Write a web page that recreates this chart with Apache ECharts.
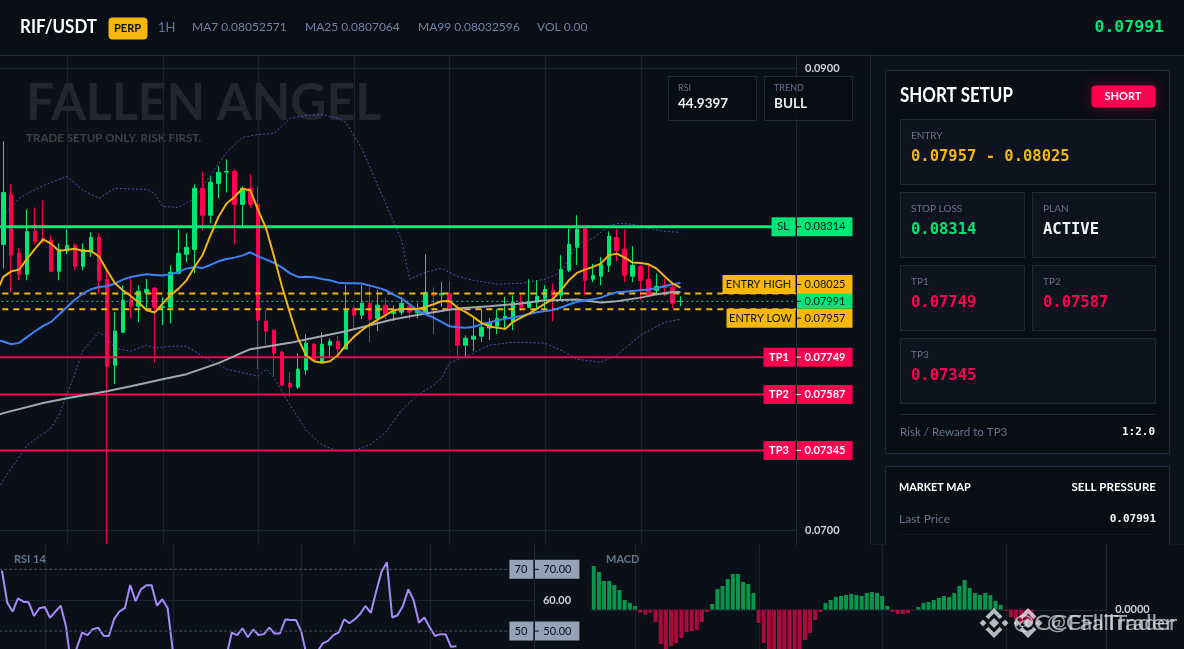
<!DOCTYPE html>
<html><head><meta charset="utf-8"><style>html,body{margin:0;padding:0;background:#0a0f18}#c{width:1184px;height:649px}</style>
<script src="https://cdn.jsdelivr.net/npm/echarts@6/dist/echarts.min.js"></script></head><body><div id="c"></div>
<script>
const slots = Array.from({length:100},(_,i)=>i);
const priceSlots = Array.from({length:101},(_,i)=>i);
const opens=[.08300,.08238,.08455,.08199,.08108,.08294,.08263,.08255,.08121,.08209,.08234,.08143,.08204,.08268,.08087,.07714,.07857,.07996,.07970,.08030,.08048,.07964,.07965,.08113,.08195,.08216,.08481,.08364,.08502,.08551,.08554,.08411,.08481,.08411,.07905,.07866,.07771,.07636,.07619,.07693,.07805,.07727,.07801,.07818,.07784,.07961,.07931,.07983,.07918,.07974,.07939,.07944,.07970,.07941,.07944,.08022,.08019,.08026,.07961,.07801,.07827,.07840,.07875,.07883,.07918,.07901,.07987,.07965,.07987,.08004,.08039,.08017,.08126,.08225,.08306,.08087,.08100,.08147,.08268,.08217,.08100,.08143,.08087,.08039,.08061,.08052,.07990];
const closes=[.08240,.08463,.08191,.08108,.08294,.08251,.08254,.08121,.08216,.08234,.08143,.08216,.08268,.08082,.07710,.07862,.07996,.07970,.08035,.08043,.07965,.07967,.08117,.08199,.08225,.08481,.08364,.08507,.08550,.08554,.08411,.08481,.08411,.07909,.07862,.07766,.07628,.07619,.07697,.07810,.07736,.07805,.07818,.07784,.07957,.07931,.07983,.07913,.07974,.07935,.07948,.07983,.07944,.07952,.08030,.08017,.08025,.07961,.07801,.07831,.07840,.07879,.07896,.07918,.07926,.07987,.07965,.07987,.08013,.08043,.08017,.08130,.08238,.08303,.08082,.08104,.08152,.08273,.08212,.08104,.08147,.08082,.08017,.08056,.08049,.07983,.07991];
const lows=[.08200,.08134,.08030,.08082,.08082,.08238,.08241,.08117,.08082,.08195,.08126,.08126,.08183,.08022,.06939,.07632,.07857,.07918,.07900,.07948,.07727,.07888,.07896,.08108,.08160,.08113,.08299,.08329,.08437,.08463,.08238,.08316,.08394,.07697,.07801,.07667,.07623,.07576,.07610,.07671,.07736,.07723,.07750,.07750,.07784,.07873,.07913,.07814,.07862,.07913,.07905,.07931,.07913,.07918,.07935,.07849,.07967,.07883,.07753,.07753,.07775,.07814,.07823,.07849,.07866,.07866,.07948,.07964,.07952,.07952,.07905,.07996,.08118,.08147,.08017,.08075,.08061,.08118,.08165,.08075,.08075,.07996,.08010,.08017,.08014,.07961,.07970];
const highs=[.08340,.08684,.08498,.08221,.08390,.08398,.08429,.08277,.08242,.08303,.08242,.08242,.08290,.08286,.08120,.07944,.08061,.08091,.08061,.08087,.08052,.08009,.08147,.08303,.08286,.08498,.08554,.08533,.08576,.08606,.08563,.08489,.08541,.08489,.07952,.07866,.07779,.07684,.07766,.07849,.07810,.07857,.07831,.07840,.08061,.07970,.08061,.08065,.08039,.08004,.07974,.08010,.07974,.07983,.08195,.08051,.08074,.08078,.07978,.07844,.07918,.07957,.07918,.07957,.08010,.08017,.08022,.08087,.08082,.08061,.08069,.08191,.08307,.08364,.08307,.08154,.08183,.08294,.08307,.08303,.08230,.08147,.08147,.08111,.08090,.08068,.08013];
const ma7=[.08017,.080967,.08121,.081284,.08176,.08219,.082597,.08241,.08209,.08215,.08219,.08209,.08209,.08186,.081255,.080707,.08039,.080144,.079856,.079524,.079423,.079812,.080173,.08046,.08082,.0814,.081905,.08277,.083564,.08414,.08443,.08479,.08472,.083853,.083059,.08183,.080534,.07938,.078298,.077576,.077316,.077244,.077316,.077576,.078009,.07837,.078658,.078904,.07912,.079308,.079524,.07958,.07958,.07958,.079668,.079784,.079914,.079928,.07964,.07945,.079236,.078976,.07883,.07876,.078716,.07902,.079207,.07938,.079596,.079813,.080015,.08039,.080823,.08114,.081285,.0814,.081544,.081905,.081978,.081804,.081588,.081573,.081515,.081328,.080996,.080678,.080505];
const ma25=[.07825,.078167,.07805,.07811,.07837,.078615,.078846,.079019,.079336,.079668,.079986,.080245,.080433,.080534,.080563,.080678,.080852,.080967,.081025,.081082,.081053,.081025,.081082,.081183,.081328,.0814,.081356,.081486,.081645,.081746,.081804,.08189,.082035,.08186,.081717,.081573,.08137,.08112,.080967,.08098,.08095,.08088,.08082,.08072,.08069,.08069,.08068,.08059,.080505,.08039,.0802,.08003,.079784,.079524,.07935,.079207,.079019,.07883,.078788,.07877,.0788,.078918,.07899,.07909,.07915,.079207,.079279,.079365,.079437,.079495,.079539,.07964,.07977,.079885,.079957,.08,.08007,.0802,.0803,.08033,.08036,.08039,.08042,.08049,.08056,.08065,.080707];
const ma99=[.07495,.075065,null,null,null,null,.0755,null,null,.075714,null,null,null,null,.076017,null,null,.076234,null,null,null,.076537,null,null,.076753,null,null,null,.07723,null,null,null,.077836,null,null,null,null,.07811,null,.078254,null,null,null,null,.078615,null,null,.078875,null,null,.079135,null,null,null,.07938,null,null,null,.079596,null,null,null,.079697,null,null,null,.079813,null,null,.079957,.07996,null,null,.079986,null,null,.079856,null,.079914,null,null,.08007,null,.080217,null,.080318,.080318];
const bollUp=[.08299,.083636,null,.08437,null,.08476,null,.085065,null,.085325,null,.08472,null,.08437,null,.084805,null,null,null,.08476,.08459,.084026,null,.08398,null,.08437,null,.08537,null,.08636,null,.08701,null,.08714,null,.087186,null,.087836,null,.087965,null,.088009,null,.087836,.08766,null,.086537,null,.084935,.084156,null,.082554,.080866,null,.081169,null,.08134,null,.080996,null,.08082,null,null,.08065,null,null,.08069,null,null,.080866,null,.081169,null,.082338,null,.08264,null,.08316,.08329,null,.083247,null,.083074,null,.082944,null,.0829];
const bollLow=[.07150,.072165,null,null,.07368,null,null,.074416,.074978,null,.076796,.07779,null,.07857,.078355,.077879,null,.07775,null,.078009,.077879,null,.077965,null,.077965,null,.07753,null,null,.07697,null,null,null,.076667,.07697,.07658,null,.07541,null,.07433,null,.07368,null,.07342,null,.07346,null,.07368,null,.07424,null,.075195,null,.07584,null,.076277,.07658,.07723,null,null,.07766,null,.078009,null,null,.078139,null,null,null,.078095,null,.07779,null,.0774,null,null,.07727,null,.077576,null,null,.07844,null,null,.079,null,.079134];
const levelNames=['SL','ENTRY HIGH','','ENTRY LOW','TP1','TP2','TP3'];
const levelPrices=[.08314,.08025,.07991,.07957,.07749,.07587,.07345];
const rsiValues=[69.6,59.2,56.3,60.6,59.5,59.3,54.9,57.4,57.8,54.3,56.3,58.2,51.4,38,44.5,49.5,48.7,50.6,51.1,48.5,48.4,53.9,56.4,57.4,64.9,59.7,63.5,64.8,64.8,58.2,60.3,57.4,43,38,34,32,33,35,36,37,38,40,42,49.5,48.7,50.9,48,50.5,48.7,49,51.1,49.2,49.2,53.7,53.6,53.6,49.8,42,41.7,43.3,46,46.8,48.7,49.6,53.8,52.5,53.8,55.5,58.1,55.9,62.8,69.2,72.3,54.4,55.1,58.1,63.5,60,52.7,54.4,51.2,48.4,49,48.9,44.9,45.1];
const rsiGuides=[70,50];
const macdValues=[.00131,.00113,.00086,.00086,.00074,.00059,.00029,.0002,.00011,-.00009,-.00015,-.00009,-.00037,-.00103,-.00122,-.00109,-.001,-.00085,-.00067,-.00064,-.00061,-.00037,-.00007,.00017,.00062,.00071,.00092,.00107,.00107,.00083,.00077,.0005,-.0004,-.001,-.00118,-.00126,-.00131,-.00131,-.00131,-.00131,-.00126,-.00091,-.0007,-.00031,-.00007,.0002,.00029,.00038,.00041,.00044,.00047,.00044,.00041,.0005,.00053,.0005,.00041,.00011,-.00007,-.00013,-.00013,-.0001,-.00001,.00008,.0002,.00023,.00029,.00035,.00041,.00038,.0005,.00071,.00089,.00065,.0005,.00044,.0005,.00044,.00026,.00014,-.00004,-.00022,-.00031,-.0004,-.00038,-.00041];

const UI='Lato', MONO='"DejaVu Sans Mono"';
const GREEN='#00e676', RED='#ff0050', AMBER='#f5b70a', SLATE='#94a3b8', BG='#0a0f18', GRID='#1b2330', RULE='#1e2a3a', MUTED='#64748b';
const levelStyles=[
 {line:GREEN,w:3,box:GREEN,ink:'#0a0f18',leftW:24,dy:0,h:19},
 {line:AMBER,w:2,dash:[6,5],box:AMBER,ink:'#0a0f18',leftW:73,dy:-9,h:19},
 {line:'#22c99a',w:1,dash:[2,3],box:GREEN,ink:'#0a0f18',leftW:0,dy:0,h:15},
 {line:AMBER,w:2,dash:[6,5],box:AMBER,ink:'#0a0f18',leftW:69,dy:9,h:19},
 {line:RED,w:2,box:RED,ink:'#fff',leftW:32,dy:0,h:19,bold:true},
 {line:RED,w:2,box:RED,ink:'#fff',leftW:32,dy:0,h:19,bold:true},
 {line:RED,w:2,box:RED,ink:'#fff',leftW:32,dy:0,h:19,bold:true}];
function tagShapes(cs,y,name,priceText,st){
  const r=cs.x+cs.width, cy=y+st.dy, out=[], rw=st.rightW||56;
  const font=(st.bold?'bold ':'')+'11px '+UI;
  out.push({type:'line',shape:{x1:cs.x,y1:y,x2:r,y2:y},style:{stroke:st.line,lineWidth:st.w,lineDash:st.dash||null}});
  if(st.leftW){
    out.push({type:'rect',shape:{x:r-st.leftW-0.5,y:cy-st.h/2,width:st.leftW,height:st.h},style:{fill:st.box}});
    out.push({type:'text',style:{x:r-st.leftW/2-1,y:cy,text:name,fill:st.ink,font,align:'center',verticalAlign:'middle'}});
  }
  out.push({type:'rect',shape:{x:r+.5,y:cy-st.h/2,width:rw,height:st.h},style:{fill:st.box}});
  out.push({type:'line',shape:{x1:r+.5,y1:cy-st.h/2,x2:r+.5,y2:cy+st.h/2},style:{stroke:'#0a0f18',lineWidth:1}});
  out.push({type:'line',shape:{x1:r+.5,y1:cy,x2:r+5,y2:cy},style:{stroke:st.ink,lineWidth:1}});
  out.push({type:'text',style:{x:r+rw/2+1,y:cy,text:priceText,fill:st.ink,font,align:'center',verticalAlign:'middle'}});
  return out;
}
function guideSeries(gridIdx,cols,hValues,z){
  return {type:'custom',xAxisIndex:gridIdx,yAxisIndex:gridIdx,z:z||1,silent:true,clip:false,data:[[0,0]],tooltip:{show:false},
    renderItem(p,api){const cs=p.coordSys,kids=[];
      cols.forEach(c=>{const x=Math.round(api.coord([c,0])[0])+.5;kids.push({type:'line',shape:{x1:x,y1:cs.y,x2:x,y2:cs.y+cs.height},style:{stroke:GRID,lineWidth:1}});});
      hValues.forEach(v=>{const y=Math.round(api.coord([0,v])[1])+.5;kids.push({type:'line',shape:{x1:Math.max(cs.x,0),y1:y,x2:cs.x+cs.width,y2:y},style:{stroke:GRID,lineWidth:1}});});
      return {type:'group',children:kids};}};
}
function maLine(name,data,color,w){return {name,type:'line',xAxisIndex:0,yAxisIndex:0,data,connectNulls:true,symbol:'none',z:6,silent:true,lineStyle:{color,width:w}};}
function boll(name,data){return {name,type:'line',xAxisIndex:0,yAxisIndex:0,data,connectNulls:true,symbol:'none',z:2,silent:true,lineStyle:{color:'#5a4bb0',width:1,type:[2,2]}};}

const g=[];
const R=(x,y,w,h,fill,stroke,r,z,extra)=>g.push(Object.assign({type:'rect',z:z||0,silent:true,shape:{x:x+.5,y:y+.5,width:w,height:h,r:r||0},style:{fill,stroke:stroke||null,lineWidth:1}},extra||{}));
const T=(x,y,text,font,fill,align,z,sx)=>g.push({type:'text',z:z||1,silent:true,x,y,scaleX:sx||1,style:{x:0,y:0,text,font,fill,align:align||'left',verticalAlign:'middle'}});
// header
R(-1,-1,1186,56,'#0a0e17',RULE);
T(20,27.5,'RIF/USDT','bold 18px '+UI,'#ffffff','left',1,.94);
R(108,17,39,22,AMBER,null,4);
T(127.5,28,'PERP','bold 11px '+UI,'#0a0f18','center');
T(158,27.5,'1H','13px '+UI,'#64789a');
T(192,27.5,'MA7 0.08052571','12px '+UI,'#6f83a5');
T(305,27.5,'MA25 0.0807064','12px '+UI,'#6f83a5');
T(418,27.5,'MA99 0.08032596','12px '+UI,'#6f83a5');
T(537,27.5,'VOL 0.00','12px '+UI,'#6f83a5');
T(1164,28,'0.07991','bold 16.5px '+MONO,GREEN,'right');
// watermark
T(26,103,'FALLEN ANGEL','bold 52px '+UI,'#22272f','left',1,.96);
T(26,138,'TRADE SETUP ONLY. RISK FIRST.','bold 12px '+UI,'#3b4049','left',1,.965);
// sidebar
R(870,55,314,489,'#0c121d','#1c2634');
R(885,70,284,383,'#090d15',RULE);
T(900,96,'SHORT SETUP','bold 20px '+UI,'#ffffff','left',1,.845);
R(1091,85,64,22,RED,null,4,1,{style:{fill:RED,shadowBlur:14,shadowColor:'rgba(255,0,80,.35)'}});
T(1123,96,'SHORT','bold 11px '+UI,'#ffffff','center',2);
const card=(x,y,w,h,label,val,col)=>{R(x,y,w,h,'#0e141f','#1f2837');T(x+11,y+17,label,'10px '+UI,MUTED);T(x+11,y+38,val,'bold 15.5px '+MONO,col);};
card(900,119,255,65,'ENTRY','0.07957 - 0.08025',AMBER);
card(900,192,124,65,'STOP LOSS','0.08314',GREEN);
card(1032,192,123,65,'PLAN','ACTIVE','#f1f5f9');
card(900,265,124,65,'TP1','0.07749',RED);
card(1032,265,123,65,'TP2','0.07587',RED);
card(900,338,255,65,'TP3','0.07345',RED);
g.push({type:'line',z:1,silent:true,shape:{x1:900,y1:414.5,x2:1155,y2:414.5},style:{stroke:RULE,lineWidth:1}});
T(900,432,'Risk / Reward to TP3','12px '+UI,MUTED,'left',1,.965);
T(1155,432,'1:2.0','bold 11px '+MONO,'#f1f5f9','right');
R(885,466,284,90,'#090d15',RULE);
T(899,487,'MARKET MAP','bold 12px '+UI,'#ffffff','left',1,.9);
T(1156,487,'SELL PRESSURE','bold 12px '+UI,'#ffffff','right',1,.965);
T(899,519,'Last Price','12px '+UI,MUTED);
T(1156,519,'0.07991','bold 11px '+MONO,'#f1f5f9','right');
g.push({type:'line',z:1,silent:true,shape:{x1:899,y1:534.5,x2:1156,y2:534.5},style:{stroke:'#1a2230',lineWidth:1,lineDash:[2,2]}});
// lower strip over sidebar
R(-1,544,1186,106,BG,null,0,1);
T(14,559,'RSI 14','bold 11px '+UI,MUTED,'left',3);
T(606,559,'MACD','bold 11px '+UI,MUTED,'left',3);
// stat boxes
R(668,76,88,44,'rgba(8,12,20,.85)',RULE,0,8);
T(678,88.5,'RSI','9px '+UI,MUTED,'left',9);
T(678,104,'44.9397','bold 13.5px '+UI,'#e8edf3','left',9);
R(764,76,88,44,'rgba(8,12,20,.85)',RULE,0,8);
T(774,88.5,'TREND','9px '+UI,MUTED,'left',9);
T(774,104,'BULL','bold 13.5px '+UI,'#e8edf3','left',9);
// overlaid attribution logos and handles
function logo(cx,cy){
  const polys=[[[0,-5],[5,0],[0,5],[-5,0]],[[-11,-3.5],[-7.5,0],[-11,3.5],[-14.5,0]],[[11,-3.5],[14.5,0],[11,3.5],[7.5,0]],
   [[0,-15],[8.5,-6.5],[5.7,-3.7],[0,-9.4],[-5.7,-3.7],[-8.5,-6.5]],[[0,15],[8.5,6.5],[5.7,3.7],[0,9.4],[-5.7,3.7],[-8.5,6.5]]];
  polys.forEach(pts=>g.push({type:'polygon',z:30,silent:true,x:cx,y:cy,shape:{points:pts},style:{fill:'rgba(225,227,232,.8)'}}));
}
logo(994,623);logo(1028,623);
T(1013,623,'@CCFallTrader','21px '+UI,'rgba(225,227,232,.7)','left',30,1.2);
T(1047,623,'@CFallTrader','21px '+UI,'rgba(225,227,232,.7)','left',30,1.08);

const axisHidden=(i,data)=>({type:'category',gridIndex:i,data,show:false,boundaryGap:true});
const yAxisBase=(i,min,max,vals,digits)=>({type:'value',gridIndex:i,position:'right',z:4,min,max,splitLine:{show:false},axisTick:{show:false},
   axisLine:{show:true,lineStyle:{color:RULE}},axisLabel:{customValues:vals,formatter:v=>v.toFixed(digits),color:'#cbd5e1',fontWeight:'bold',fontSize:11,fontFamily:UI,margin:9}});
const option={
 animation:false,backgroundColor:BG,textStyle:{fontFamily:UI},
 grid:[{left:-8.67,top:55,width:804.67,height:490,outerBoundsMode:'none'},{left:-0.76,top:544,width:534.66,height:105,outerBoundsMode:'none'},{left:591.2,top:544,width:515,height:105,outerBoundsMode:'none'}],
 xAxis:[axisHidden(0,priceSlots),axisHidden(1,slots),axisHidden(2,slots)],
 yAxis:[yAxisBase(0,0.06935,0.090585,[0.07,0.09],4),yAxisBase(1,44.18,78.2,[60],2),yAxisBase(2,-0.00118,0.00197,[0],4)],
 graphic:{elements:g},
 series:[
  guideSeries(0,[9,21,33,45,57,69,81],[0.09,0.07]),
  boll('BB upper',bollUp),boll('BB lower',bollLow),
  {name:'Price',type:'candlestick',xAxisIndex:0,yAxisIndex:0,z:3,barWidth:4,silent:true,
   data:opens.map((o,i)=>[o,closes[i],lows[i],highs[i]]),
   itemStyle:{color:GREEN,color0:RED,borderColor:GREEN,borderColor0:RED,borderWidth:1}},
  {type:'custom',name:'Levels',xAxisIndex:0,yAxisIndex:0,z:5,silent:true,clip:false,
   data:levelPrices.map((p,i)=>[i,p]),encode:{x:0,y:1},
   renderItem(p,api){const i=api.value(0),v=api.value(1);
     return {type:'group',children:tagShapes(p.coordSys,api.coord([0,v])[1],levelNames[i],v.toFixed(5),levelStyles[i])};}},
  maLine('MA99',ma99,'#a1a8b2',2),maLine('MA25',ma25,'#3b82f6',2),maLine('MA7',ma7,'#f0b40a',2),
  guideSeries(1,[8,32,56,80],[60]),
  {name:'RSI',type:'line',xAxisIndex:1,yAxisIndex:1,data:rsiValues,symbol:'none',z:3,silent:true,lineStyle:{color:'#a78bfa',width:2}},
  {type:'custom',name:'RSI bands',xAxisIndex:1,yAxisIndex:1,z:5,silent:true,clip:false,data:rsiGuides.map(v=>[0,v]),encode:{x:0,y:1},
   renderItem(p,api){const v=api.value(1);
     return {type:'group',children:tagShapes(p.coordSys,api.coord([0,v])[1],String(v),v.toFixed(2),{line:'#4a5361',w:1,dash:[3,2],box:SLATE,ink:'#0a0f18',leftW:24,rightW:45,dy:0,h:19})};}},
  guideSeries(2,[8,32,56,80],[0]),
  {name:'MACD',type:'bar',xAxisIndex:2,yAxisIndex:2,z:3,barWidth:4,silent:true,
   data:macdValues.map(v=>({value:v,itemStyle:{color:v>=0?'#08964f':'#aa0a3c'}}))}
 ]
};
const chart=echarts.init(document.getElementById('c'),null,{renderer:'canvas',width:1184,height:649});
chart.setOption(option);
</script></body></html>
